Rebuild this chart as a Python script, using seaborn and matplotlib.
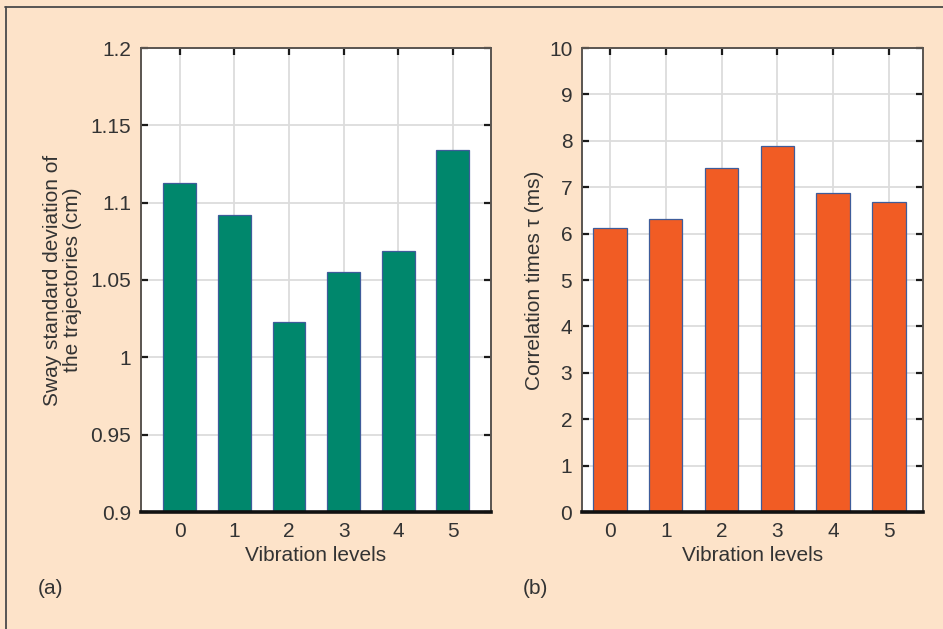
import matplotlib
matplotlib.use("Agg")
import matplotlib.pyplot as plt
import seaborn as sns
import pandas as pd
from matplotlib.lines import Line2D

# ---- data ----
levels = ["0", "1", "2", "3", "4", "5"]
sway_sd = [1.113, 1.092, 1.023, 1.055, 1.069, 1.134]
corr_times = [6.11, 6.31, 7.42, 7.89, 6.88, 6.69]

left_yticks = [0.9, 0.95, 1.0, 1.05, 1.1, 1.15, 1.2]
left_yticklabels = ["0.9", "0.95", "1", "1.05", "1.1", "1.15", "1.2"]
right_yticks = list(range(0, 11))

sns.set_theme(style="white")
plt.rcParams["font.family"] = ["Liberation Sans", "DejaVu Sans"]

BG = "#FDE3C9"
TEXT = "#333333"
GREEN = "#00876C"
ORANGE = "#F15C24"
EDGE = "#3E5C9A"

fig = plt.figure(figsize=(9.43, 6.29), dpi=100, facecolor=BG)
ax1 = fig.add_axes([141/943, 1-512/629, 350/943, 464/629])
ax2 = fig.add_axes([582/943, 1-512/629, 341/943, 464/629])

df1 = pd.DataFrame({"level": levels, "value": sway_sd})
df2 = pd.DataFrame({"level": levels, "value": corr_times})

sns.barplot(data=df1, x="level", y="value", ax=ax1, color=GREEN, width=0.6,
            edgecolor=EDGE, linewidth=0.9, saturation=1)
sns.barplot(data=df2, x="level", y="value", ax=ax2, color=ORANGE, width=0.6,
            edgecolor=EDGE, linewidth=0.9, saturation=1)

ax1.set_ylim(0.9, 1.2)
ax1.set_xlim(-0.71, 5.7)
ax1.set_yticks(left_yticks)
ax1.set_yticklabels(left_yticklabels)

ax2.set_ylim(0, 10)
ax2.set_xlim(-0.5, 5.61)
ax2.set_yticks(right_yticks)

fs = 15
for ax in (ax1, ax2):
    ax.set_facecolor("white")
    ax.set_axisbelow(True)
    ax.grid(True, color="#DCDCDC", linewidth=1.3)
    ax.tick_params(axis="both", direction="in", length=5, width=1.6, color="#1a1a1a",
                   labelsize=fs, labelcolor=TEXT, top=True, right=True, left=True,
                   bottom=False, labelbottom=True, labelleft=True)
    ax.tick_params(axis="x", pad=7)
    ax.tick_params(axis="y", pad=7)
    for s in ("top", "right", "left"):
        ax.spines[s].set_visible(True)
        ax.spines[s].set_color("#5a5550")
        ax.spines[s].set_linewidth(1.4)
    ax.spines["bottom"].set_visible(True)
    ax.spines["bottom"].set_color("#111111")
    ax.spines["bottom"].set_linewidth(2.6)
    ax.set_xlabel("Vibration levels", fontsize=fs, color=TEXT, labelpad=4)

ax1.set_ylabel("Sway standard deviation of\nthe trajectories (cm)", fontsize=fs,
               color=TEXT, linespacing=1.05)
ax1.yaxis.set_label_coords(-0.168, 0.5)
ax2.set_ylabel("Correlation times τ (ms)", fontsize=fs, color=TEXT)
ax2.yaxis.set_label_coords(-0.112, 0.5)

fig.text(38/943, 1-588/629, "(a)", fontsize=fs, color=TEXT, ha="left", va="center")
fig.text(523/943, 1-588/629, "(b)", fontsize=fs, color=TEXT, ha="left", va="center")

# outer frame lines (top and left)
fig.add_artist(Line2D([5/943, 1.0], [1-6.5/629, 1-6.5/629], transform=fig.transFigure,
                      color="#4a4a4a", linewidth=1.3))
fig.add_artist(Line2D([5.5/943, 5.5/943], [0, 1-6.5/629], transform=fig.transFigure,
                      color="#4a4a4a", linewidth=1.3))

fig.savefig("out.png", dpi=100, facecolor=BG)
